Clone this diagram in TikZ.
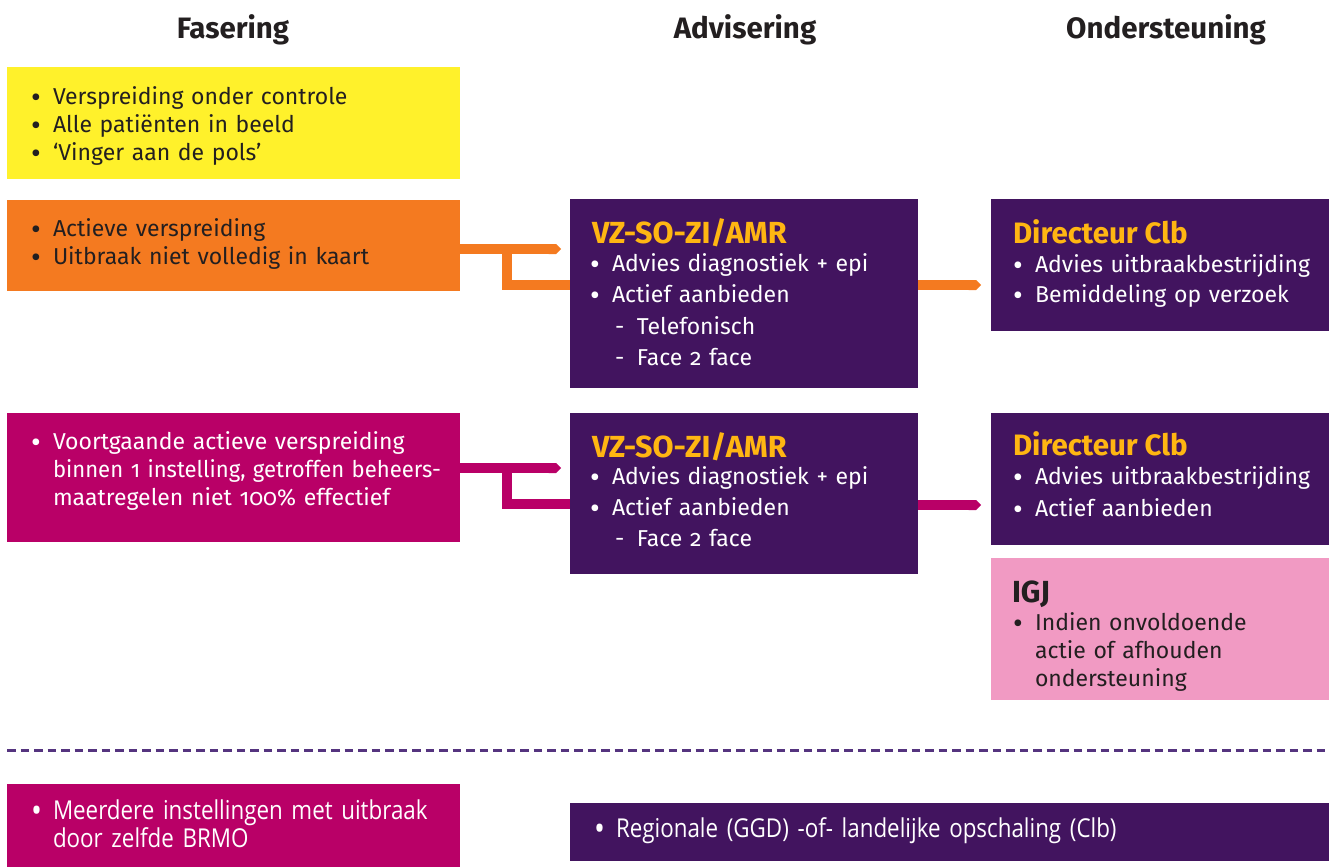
\documentclass[tikz,border=0pt]{standalone}
\usepackage{fontspec}
\usepackage{graphicx}
\setmainfont{Fira Sans}[Numbers=OldStyle]
\newfontfamily\condfont{Open Sans}[FakeStretch=0.86]
\usetikzlibrary{arrows.meta}
\definecolor{cYellow}{HTML}{FFF12B}
\definecolor{cOrange}{HTML}{F47A20}
\definecolor{cPurple}{HTML}{42145F}
\definecolor{cMagenta}{HTML}{B90067}
\definecolor{cPink}{HTML}{F19AC3}
\definecolor{cGold}{HTML}{FFB612}
\definecolor{cDark}{HTML}{231F20}
\definecolor{cDash}{HTML}{55347F}
\newcommand\bul{\makebox[22pt][l]{\raisebox{-3.3pt}[0pt][0pt]{\scalebox{1.3}{•}}}}
\newcommand\hng{\makebox[22pt][l]{}}
\newcommand\subdash{\makebox[25pt][l]{}\makebox[22pt][l]{-}}
\tikzset{
  box/.style={anchor=north west, inner sep=0pt, outer sep=0pt, draw=none},
  txt/.style={anchor=base west, inner sep=0pt, outer sep=0pt, align=left, text width=#1,
              font=\fontsize{23}{28}\selectfont},
  txt/.default=460pt,
  head/.style={anchor=base west, inner sep=0pt, outer sep=0pt, text=cGold,
               font=\fontsize{30.5}{32}\selectfont\bfseries},
  colhead/.style={anchor=base, inner sep=0pt, text=cDark,
               font=\fontsize{29.5}{32}\selectfont\bfseries},
  oline/.style={draw=cOrange, line width=10pt},
  mline/.style={draw=cMagenta, line width=10pt},
  arrowcap/.style={-{Triangle Cap[]}},
  cond/.style={anchor=base west, inner sep=0pt, outer sep=0pt, align=left, text width=#1,
              font=\fontsize{26}{28}\condfont},
}
\begin{document}
\begin{tikzpicture}[x=1pt,y=-1pt]
\useasboundingbox (0,0) rectangle (1329,867);

% column headers
\node[colhead] (hF) at (233,39) {Fasering};
\node[colhead] (hA) at (745,39) {Advisering};
\node[colhead] (hO) at (1166,39) {Ondersteuning};

% left column boxes
\node[box, fill=cYellow, minimum width=453pt, minimum height=112pt] (yel) at (7,67) {};
\node[txt, text=cDark] (yelT) at (31,104)
  {\bul Verspreiding onder controle\\ \bul Alle patiënten in beeld\\ \bul ‘Vinger aan de pols’};

\node[box, fill=cOrange, minimum width=453pt, minimum height=91pt] (ora) at (7,200) {};
\node[txt, text=cDark] (oraT) at (31,236)
  {\bul Actieve verspreiding\\ \bul Uitbraak niet volledig in kaart};

\node[box, fill=cMagenta, minimum width=453pt, minimum height=129pt] (mag) at (7,413) {};
\node[txt, text=white] (magT) at (31,449)
  {\bul Voortgaande actieve verspreiding\\\hng \scalebox{0.96}[1]{binnen\hspace{8pt}1 instelling, getroffen beheers-}\\\hng maatregelen niet 100\% effectief};

% advisering boxes
\node[box, fill=cPurple, minimum width=348pt, minimum height=189pt] (vz1) at (570,199) {};
\node[head] (vz1H) at (592,243) {VZ-SO-ZI/AMR};
\node[txt=320pt, text=white, font=\fontsize{23}{31.6}\selectfont] (vz1T) at (590,271)
  {\bul Advies diagnostiek + epi\\ \bul Actief aanbieden\\ \subdash Telefonisch\\ \subdash Face 2 face};

\node[box, fill=cPurple, minimum width=348pt, minimum height=161pt] (vz2) at (570,413) {};
\node[head] (vz2H) at (592,457) {VZ-SO-ZI/AMR};
\node[txt=320pt, text=white, font=\fontsize{23}{31.3}\selectfont] (vz2T) at (590,484)
  {\bul Advies diagnostiek + epi\\ \bul Actief aanbieden\\ \subdash Face 2 face};

% ondersteuning boxes
\node[box, fill=cPurple, minimum width=338pt, minimum height=132pt] (dir1) at (991,199) {};
\node[head, font=\fontsize{29.5}{32}\selectfont\bfseries] (dir1H) at (1013,243) {Directeur Clb};
\node[txt=310pt, text=white, font=\fontsize{23}{30}\selectfont] (dir1T) at (1013,272)
  {\bul Advies uitbraakbestrijding\\ \bul Bemiddeling op verzoek};

\node[box, fill=cPurple, minimum width=338pt, minimum height=132pt] (dir2) at (991,413) {};
\node[head, font=\fontsize{29.5}{32}\selectfont\bfseries] (dir2H) at (1013,455) {Directeur Clb};
\node[txt=310pt, text=white, font=\fontsize{23}{32}\selectfont] (dir2T) at (1013,484)
  {\bul Advies uitbraakbestrijding\\ \bul Actief aanbieden};

\node[box, fill=cPink, minimum width=338pt, minimum height=142pt] (igj) at (991,558) {};
\node[head, text=cDark] (igjH) at (1012,602) {IGJ};
\node[txt=310pt, text=cDark, font=\fontsize{23}{28.3}\selectfont] (igjT) at (1013,630)
  {\bul Indien onvoldoende\\\hng actie of afhouden\\\hng ondersteuning};

% dashed separator
\coordinate (dashL) at (7,750);
\coordinate (dashR) at (1326,750);
\draw[cDash, line width=3pt, dash pattern=on 8.5pt off 5pt] (dashL) -- (dashR);

% bottom row
\node[box, fill=cMagenta, minimum width=453pt, minimum height=83pt] (magB) at (7,784) {};
\node[cond=420pt, text=white] (magBT) at (31,819)
  {\bul Meerdere instellingen met uitbraak\\\hng door zelfde BRMO};

\node[box, fill=cPurple, minimum width=759pt, minimum height=58pt] (purB) at (570,803) {};
\node[cond=700pt, text=white] (purBT) at (594,837)
  {\bul Regionale (GGD) -of- landelijke opschaling (Clb)};

% orange connectors
\coordinate (oTip) at (561,249);
\coordinate (oBr) at (507,249);
\coordinate (oTip2) at (981,285);
\draw[oline, arrowcap] (ora.east |- oTip) -- (oTip);
\draw[oline] (oBr) |- ([yshift=-86pt]vz1.north west);
\draw[oline, arrowcap] ([yshift=-86pt]vz1.north east) -- (oTip2);

% magenta connectors
\coordinate (mTip) at (561,468);
\coordinate (mBr) at (507,468);
\coordinate (mTip2) at (981,505);
\draw[mline, arrowcap] (mag.east |- mTip) -- (mTip);
\draw[mline] (mBr) |- ([yshift=-91pt]vz2.north west);
\draw[mline, arrowcap] ([yshift=-92pt]vz2.north east) -- (mTip2);
\end{tikzpicture}
\end{document}
